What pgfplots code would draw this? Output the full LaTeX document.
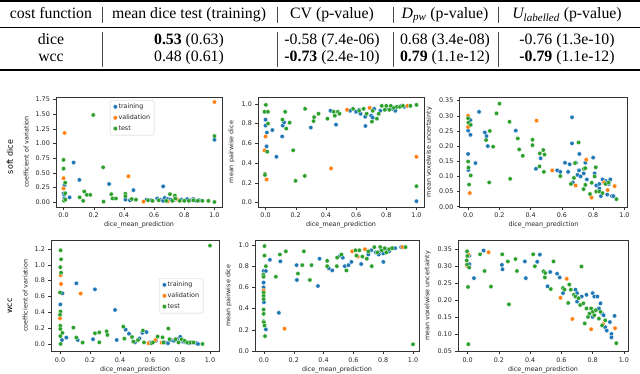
\documentclass[border=0pt]{standalone}
\usepackage{fontspec}
\setmainfont{Liberation Serif}
\newfontfamily\plotfont{DejaVu Sans}
\usepackage{pgfplots}
\pgfplotsset{compat=1.18}
\definecolor{tabblue}{HTML}{1F77B4}
\definecolor{taborange}{HTML}{FF7F0E}
\definecolor{tabgreen}{HTML}{2CA02C}
\newcommand{\tb}{\fontsize{15.8}{17}\selectfont}
\newcommand{\pf}{\plotfont\fontsize{6.4}{7.5}\selectfont}

\pgfplotsset{
  panel/.style={
    scale only axis, anchor=north west,
    axis line style={black!80, line width=0.45pt},
    tick align=outside, tick pos=left,
    major tick length=2.6pt,
    every tick/.style={black!80, line width=0.45pt},
    ticklabel style={font=\pf, text=black!85},
    label style={font=\pf, text=black!85},
    xlabel style={yshift=3pt},
    /pgf/number format/assume math mode=true,
    scaled ticks=false,
    xtick={0,0.2,0.4,0.6,0.8,1},
    xticklabel style={/pgf/number format/.cd, fixed, fixed zerofill, precision=1},
    xlabel={dice\_mean\_prediction},
    clip=false,
    legend image code/.code={\draw[mark repeat=2,mark phase=2,##1] plot coordinates {(0pt,0pt)(5pt,0pt)(10pt,0pt)};},
    legend cell align=left,
    legend style={draw=black!18, rounded corners=1.5pt, fill=white, font=\pf, text=black!85,
      inner xsep=3pt, inner ysep=2.5pt, row sep=2.6pt, nodes={inner sep=1pt}},
  },
  tr/.style={only marks, mark=*, mark size=2.2pt, mark options={fill=tabblue, draw=white, line width=0.25pt}},
  va/.style={only marks, mark=*, mark size=2.2pt, mark options={fill=taborange, draw=white, line width=0.25pt}},
  te/.style={only marks, mark=*, mark size=2.2pt, mark options={fill=tabgreen, draw=white, line width=0.25pt}},
}

\begin{document}
\begin{tikzpicture}[x=1pt,y=1pt]
\path[use as bounding box] (0,0) rectangle (640,-374);

% table
\draw[line width=1.6pt] (0,-1.3) -- (640,-1.3);
\draw[line width=0.8pt] (0,-27.5) -- (640,-27.5);
\draw[line width=1.6pt] (0,-70) -- (640,-70);
\foreach \x in {102,277,393,498} {
  \draw[line width=0.7pt, black!70] (\x,-7) -- (\x,-23);
  \draw[line width=0.7pt, black!70] (\x,-32) -- (\x,-67);
}
\node[anchor=base, font=\tb] at (51,-18.5) {cost function};
\node[anchor=base, font=\tb] at (189,-18.5) {mean dice test (training)};
\node[anchor=base, font=\tb] at (332,-18.5) {CV (p-value)};
\node[anchor=base, font=\tb] at (445,-18.5) {{\itshape D}\textsubscript{\itshape pw} (p-value)};
\node[anchor=base, font=\tb] at (567,-18.5) {{\itshape U}\textsubscript{\itshape labelled} (p-value)};
\node[anchor=base, font=\tb] at (51,-45) {dice};
\node[anchor=base, font=\tb] at (189,-45) {\textbf{0.53} (0.63)};
\node[anchor=base, font=\tb] at (332,-45) {-0.58 (7.4e-06)};
\node[anchor=base, font=\tb] at (445,-45) {0.68 (3.4e-08)};
\node[anchor=base, font=\tb] at (567,-45) {-0.76 (1.3e-10)};
\node[anchor=base, font=\tb] at (51,-62) {wcc};
\node[anchor=base, font=\tb] at (189,-62) {0.48 (0.61)};
\node[anchor=base, font=\tb] at (332,-62) {\textbf{-0.73} (2.4e-10)};
\node[anchor=base, font=\tb] at (445,-62) {\textbf{0.79} (1.1e-12)};
\node[anchor=base, font=\tb] at (567,-62) {\textbf{-0.79} (1.1e-12)};

% row labels
\node[rotate=90, font=\plotfont\fontsize{8}{9}\selectfont] at (10,-157) {soft dice};
\node[rotate=90, font=\plotfont\fontsize{8}{9}\selectfont] at (10,-306) {wcc};

% soft dice: coefficient of variation
\begin{axis}[panel, at={(56pt,-97pt)}, width=166pt, height=110pt,
  xmin=-0.05, xmax=1.05, ymin=-0.0855, ymax=1.7955,
  ytick={0,0.25,0.5,0.75,1,1.25,1.5,1.75},
  yticklabel style={/pgf/number format/.cd, fixed, fixed zerofill, precision=2},
  ylabel={coefficient of variation},
  legend style={at={(0.325,0.973)}, anchor=north west}]
\addplot[tr] coordinates {
 (1.0,1.064) (0.067,0.674) (0.105,0.378) (0.302,0.308) (0.463,0.203) (0.66,0.267)
 (0.007,0.29) (0.0,0.145) (0.04,0.08) (0.005,0.12) (0.41,0.04) (0.44,0.03)
 (0.55,0.04) (0.58,0.03) (0.62,0.06) (0.64,0.04) (0.66,0.02) (0.67,0.07)
 (0.69,0.05) (0.71,0.04) (0.73,0.03) (0.78,0.04) (0.82,0.05) (0.84,0.03)
 (0.86,0.05) (0.88,0.02) (0.90,0.03) (0.005,0.06)
};
\addplot[va] coordinates {
 (1.0,1.71) (0.007,1.18) (0.0,0.407) (0.0,0.233) (0.43,0.44) (0.53,0.006)
 (0.69,0.01) (0.75,0.05) (0.96,0.02)
};
\addplot[te] coordinates {
 (0.197,1.488) (1.0,1.128) (1.0,0.0) (0.0,0.72) (0.0,0.57) (0.011,0.33)
 (0.011,0.15) (0.003,0.02) (0.012,0.04) (0.262,0.593) (0.265,0.006) (0.107,0.08)
 (0.137,0.18) (0.13,0.02) (0.154,0.122) (0.177,0.122) (0.316,0.134) (0.325,0.06)
 (0.347,0.06) (0.41,0.14) (0.41,0.10) (0.452,0.05) (0.48,0.04) (0.56,0.03)
 (0.59,0.02) (0.63,0.03) (0.705,0.134) (0.738,0.11) (0.74,0.06) (0.77,0.02)
 (0.80,0.02) (0.83,0.02) (0.86,0.03) (0.89,0.02) (0.92,0.02) (0.96,0.02)
 (0.68,0.02) (0.72,0.02)
};
\legend{training,validation,test}
\end{axis}

% soft dice: mean pairwise dice
\begin{axis}[panel, at={(258pt,-97pt)}, width=166pt, height=110pt,
  xmin=-0.05, xmax=1.05, ymin=-0.045, ymax=1.07,
  ytick={0,0.2,0.4,0.6,0.8,1},
  yticklabel style={/pgf/number format/.cd, fixed, fixed zerofill, precision=1},
  ylabel={mean pairwise dice}]
\addplot[tr] coordinates {
 (1.0,0.014) (0.0,0.84) (0.0,0.78) (0.009,0.71) (0.007,0.57) (0.045,0.735)
 (0.072,0.464) (0.11,0.67) (0.114,0.78) (0.123,0.813) (0.30,0.76) (0.43,0.93)
 (0.467,0.79) (0.662,0.776) (0.60,0.92) (0.62,0.94) (0.63,0.90) (0.66,0.87)
 (0.70,0.88) (0.71,0.86) (0.72,0.95) (0.76,0.93) (0.80,0.95) (0.84,0.95)
 (0.86,0.93) (0.90,0.98) (0.92,0.97) (0.56,0.93)
};
\addplot[va] coordinates {
 (1.0,0.464) (0.434,0.346) (0.0,0.67) (-0.007,0.53) (0.007,0.234) (0.54,0.94)
 (0.69,0.96) (0.94,0.98)
};
\addplot[te] coordinates {
 (1.0,0.99) (1.0,0.166) (0.002,0.99) (-0.007,0.92) (0.016,0.92) (0.016,0.80)
 (0.011,0.515) (-0.004,0.29) (-0.004,0.28) (0.112,0.84) (0.13,0.92) (0.137,0.75)
 (0.16,0.81) (0.183,0.53) (0.199,0.22) (0.262,0.95) (0.26,0.27) (0.318,0.826)
 (0.322,0.866) (0.351,0.90) (0.41,0.85) (0.452,0.92) (0.459,0.88) (0.479,0.92)
 (0.49,0.90) (0.58,0.95) (0.62,0.93) (0.65,0.95) (0.67,0.90) (0.705,0.82)
 (0.71,0.93) (0.738,0.85) (0.75,0.90) (0.77,0.98) (0.79,0.94) (0.80,0.98)
 (0.82,0.94) (0.83,0.98) (0.85,0.96) (0.87,0.97) (0.89,0.97) (0.91,0.98)
 (0.96,0.98)
};
\end{axis}

% soft dice: mean voxelwise uncertainty
\begin{axis}[panel, at={(459.5pt,-97pt)}, width=168pt, height=110pt,
  xmin=-0.055, xmax=1.02, ymin=-0.001, ymax=0.362,
  ytick={0,0.05,0.1,0.15,0.2,0.25,0.3,0.35},
  yticklabel style={/pgf/number format/.cd, fixed, fixed zerofill, precision=2},
  ylabel={mean voxelwise uncertainty}]
\addplot[tr] coordinates {
 (0.07,0.313) (0.0,0.251) (0.015,0.237) (0.015,0.286) (0.0,0.174) (0.002,0.121)
 (0.047,0.144) (0.107,0.245) (0.118,0.233) (0.126,0.200) (0.305,0.251) (0.434,0.125)
 (0.464,0.160) (0.665,0.295) (0.665,0.209) (0.712,0.174) (0.57,0.12) (0.59,0.115)
 (0.62,0.145) (0.64,0.115) (0.65,0.14) (0.67,0.08) (0.69,0.145) (0.70,0.105)
 (0.71,0.12) (0.72,0.10) (0.74,0.11) (0.75,0.145) (0.76,0.09) (0.80,0.162)
 (0.81,0.11) (0.82,0.07) (0.84,0.075) (0.85,0.035) (0.86,0.09) (0.88,0.085)
 (0.89,0.04) (0.91,0.09) (0.90,0.075) (0.92,0.035) (0.93,0.035) (0.84,0.06)
};
\addplot[va] coordinates {
 (0.0,0.30) (0.0,0.263) (0.011,0.045) (0.438,0.284) (0.538,0.12) (0.688,0.07)
 (0.756,0.155) (0.79,0.03) (0.87,0.08) (0.893,0.055) (0.938,0.068)
};
\addplot[te] coordinates {
 (0.0,0.292) (0.002,0.277) (0.017,0.270) (0.0,0.149) (0.002,0.129) (0.017,0.103)
 (0.006,0.073) (0.201,0.340) (0.182,0.308) (0.115,0.220) (0.139,0.250) (0.160,0.198)
 (0.135,0.080) (0.265,0.280) (0.269,0.092) (0.318,0.225) (0.327,0.189) (0.350,0.168)
 (0.412,0.221) (0.412,0.203) (0.459,0.176) (0.481,0.187) (0.489,0.172) (0.457,0.133)
 (0.485,0.115) (0.707,0.212) (0.590,0.101) (0.658,0.075) (0.677,0.095) (0.684,0.144)
 (0.741,0.125) (0.75,0.127) (0.739,0.058) (0.75,0.072) (0.780,0.042) (0.791,0.079)
 (0.81,0.10) (0.817,0.130) (0.82,0.05) (0.84,0.05) (0.86,0.045) (0.88,0.075)
 (0.90,0.08) (0.949,0.025)
};
\end{axis}

% wcc: coefficient of variation
\begin{axis}[panel, at={(51pt,-240pt)}, width=168pt, height=111.5pt,
  xmin=-0.06, xmax=1.06, ymin=-0.095, ymax=1.313,
  ytick={0,0.2,0.4,0.6,0.8,1,1.2},
  yticklabel style={/pgf/number format/.cd, fixed, fixed zerofill, precision=1},
  ylabel={coefficient of variation},
  legend style={at={(0.643,0.659)}, anchor=north west}]
\addplot[tr] coordinates {
 (0.109,0.766) (0.233,0.69) (0.367,0.43) (0.016,0.64) (0.002,0.50) (0.042,0.08)
 (0.013,0.05) (0.118,0.05) (0.22,0.06) (0.378,0.05) (0.438,0.18) (0.460,0.13)
 (0.50,0.02) (0.53,0.07) (0.549,0.14) (0.577,0.15) (0.60,0.02) (0.64,0.04)
 (0.70,0.02) (0.72,0.01) (0.74,0.05) (0.76,0.04) (0.78,0.06) (0.802,0.09)
 (0.82,0.03) (0.84,0.02) (0.86,0.01) (0.88,0.02) (0.91,0.01) (0.92,0.0)
};
\addplot[va] coordinates {
 (0.004,0.87) (0.007,0.758) (0.0,0.324) (0.138,0.636) (0.636,0.05) (0.678,0.017)
 (0.59,0.01)
};
\addplot[te] coordinates {
 (1.0,1.242) (0.004,1.183) (0.007,1.07) (0.002,0.97) (0.007,0.90) (0.0,0.65)
 (0.004,0.41) (0.0,0.37) (0.002,0.23) (0.002,0.19) (0.002,0.10) (0.004,0.0)
 (0.016,0.14) (0.089,0.206) (0.109,0.08) (0.151,0.017) (0.233,0.135) (0.262,0.147)
 (0.262,0.021) (0.311,0.16) (0.316,0.114) (0.422,0.219) (0.429,0.067) (0.48,0.088)
 (0.489,0.029) (0.52,0.05) (0.553,0.17) (0.56,0.02) (0.61,0.01) (0.62,0.02)
 (0.651,0.093) (0.684,0.084) (0.69,0.02) (0.722,0.194) (0.73,0.06) (0.77,0.06)
 (0.79,0.02) (0.81,0.06) (0.83,0.04) (0.85,0.02) (0.87,0.02) (0.89,0.02) (0.95,0.0)
};
\legend{training,validation,test}
\end{axis}

% wcc: mean pairwise dice
\begin{axis}[panel, at={(255pt,-240pt)}, width=164pt, height=111.5pt,
  xmin=-0.06, xmax=1.04, ymin=-0.005, ymax=1.047,
  ytick={0,0.2,0.4,0.6,0.8,1},
  yticklabel style={/pgf/number format/.cd, fixed, fixed zerofill, precision=1},
  ylabel={mean pairwise dice}]
\addplot[tr] coordinates {
 (-0.002,0.755) (0.013,0.755) (-0.002,0.645) (-0.002,0.60) (0.0,0.46) (0.013,0.204)
 (0.04,0.86) (0.10,0.36) (0.11,0.846) (0.219,0.81) (0.221,0.67) (0.362,0.613)
 (0.373,0.87) (0.435,0.78) (0.458,0.76) (0.511,0.90) (0.529,0.88) (0.542,0.80)
 (0.567,0.81) (0.587,0.84) (0.652,0.82) (0.70,0.91) (0.72,0.95) (0.75,0.93)
 (0.78,0.94) (0.801,0.84) (0.82,0.96) (0.84,0.94) (0.86,0.97) (0.88,0.97)
 (0.92,0.98) (0.80,0.92) (0.77,0.91)
};
\addplot[va] coordinates {
 (-0.002,0.57) (0.138,0.21) (0.592,0.94) (0.629,0.89) (0.678,0.96) (0.93,0.98)
};
\addplot[te] coordinates {
 (1.0,0.063) (0.004,0.99) (0.004,0.90) (0.013,0.80) (-0.004,0.72) (-0.002,0.70)
 (-0.002,0.55) (-0.002,0.52) (-0.002,0.49) (-0.002,0.39) (-0.002,0.35) (-0.002,0.28)
 (0.0,0.27) (0.004,0.24) (0.007,0.14) (0.080,0.70) (0.107,0.91) (0.147,0.94)
 (0.228,0.73) (0.257,0.81) (0.268,0.94) (0.308,0.67) (0.319,0.81) (0.424,0.85)
 (0.424,0.80) (0.491,0.88) (0.489,0.80) (0.52,0.91) (0.553,0.76) (0.614,0.95)
 (0.62,0.90) (0.64,0.95) (0.66,0.89) (0.69,0.87) (0.70,0.94) (0.723,0.80)
 (0.74,0.98) (0.76,0.93) (0.78,0.98) (0.79,0.95) (0.81,0.97) (0.82,0.93)
 (0.84,0.96) (0.86,0.97) (0.95,0.98)
};
\end{axis}

% wcc: mean voxelwise uncertainty
\begin{axis}[panel, at={(458pt,-240pt)}, width=170pt, height=111.5pt,
  xmin=-0.062, xmax=1.026, ymin=0.0485, ymax=0.376,
  ytick={0.05,0.1,0.15,0.2,0.25,0.3,0.35},
  yticklabel style={/pgf/number format/.cd, fixed, fixed zerofill, precision=2},
  ylabel={mean voxelwise uncertainty}]
\addplot[tr] coordinates {
 (0.011,0.33) (0.011,0.305) (0.04,0.264) (0.102,0.345) (0.219,0.303) (0.223,0.29)
 (0.366,0.313) (0.372,0.264) (0.445,0.312) (0.462,0.333) (0.511,0.240) (0.528,0.282)
 (0.572,0.277) (0.589,0.266) (0.61,0.22) (0.69,0.23) (0.70,0.195) (0.70,0.22)
 (0.73,0.21) (0.76,0.215) (0.80,0.22) (0.81,0.21) (0.83,0.21) (0.85,0.19)
 (0.86,0.16) (0.87,0.155) (0.88,0.12) (0.89,0.11) (0.91,0.135) (0.92,0.10)
 (0.92,0.09) (0.94,0.153) (0.80,0.15) (0.82,0.17) (0.84,0.175)
};
\addplot[va] coordinates {
 (-0.004,0.300) (0.004,0.333) (0.134,0.340) (0.634,0.262) (0.594,0.206) (0.67,0.144)
 (0.79,0.114) (0.866,0.129) (0.943,0.117)
};
\addplot[te] coordinates {
 (-0.004,0.343) (-0.002,0.329) (-0.006,0.316) (-0.004,0.304) (0.009,0.295) (0.002,0.238)
 (0.004,0.070) (0.079,0.334) (0.108,0.285) (0.149,0.239) (0.221,0.334) (0.257,0.313)
 (0.264,0.187) (0.306,0.320) (0.315,0.285) (0.419,0.334) (0.43,0.299) (0.485,0.284)
 (0.496,0.279) (0.494,0.266) (0.532,0.232) (0.549,0.313) (0.61,0.235) (0.62,0.23)
 (0.643,0.191) (0.65,0.245) (0.66,0.23) (0.68,0.215) (0.69,0.21) (0.71,0.205)
 (0.728,0.298) (0.72,0.185) (0.74,0.19) (0.749,0.131) (0.76,0.175) (0.77,0.15)
 (0.78,0.16) (0.79,0.175) (0.80,0.165) (0.81,0.155) (0.82,0.17) (0.84,0.145)
 (0.85,0.165) (0.86,0.125) (0.88,0.14) (0.951,0.073)
};
\end{axis}
\end{tikzpicture}
\end{document}
